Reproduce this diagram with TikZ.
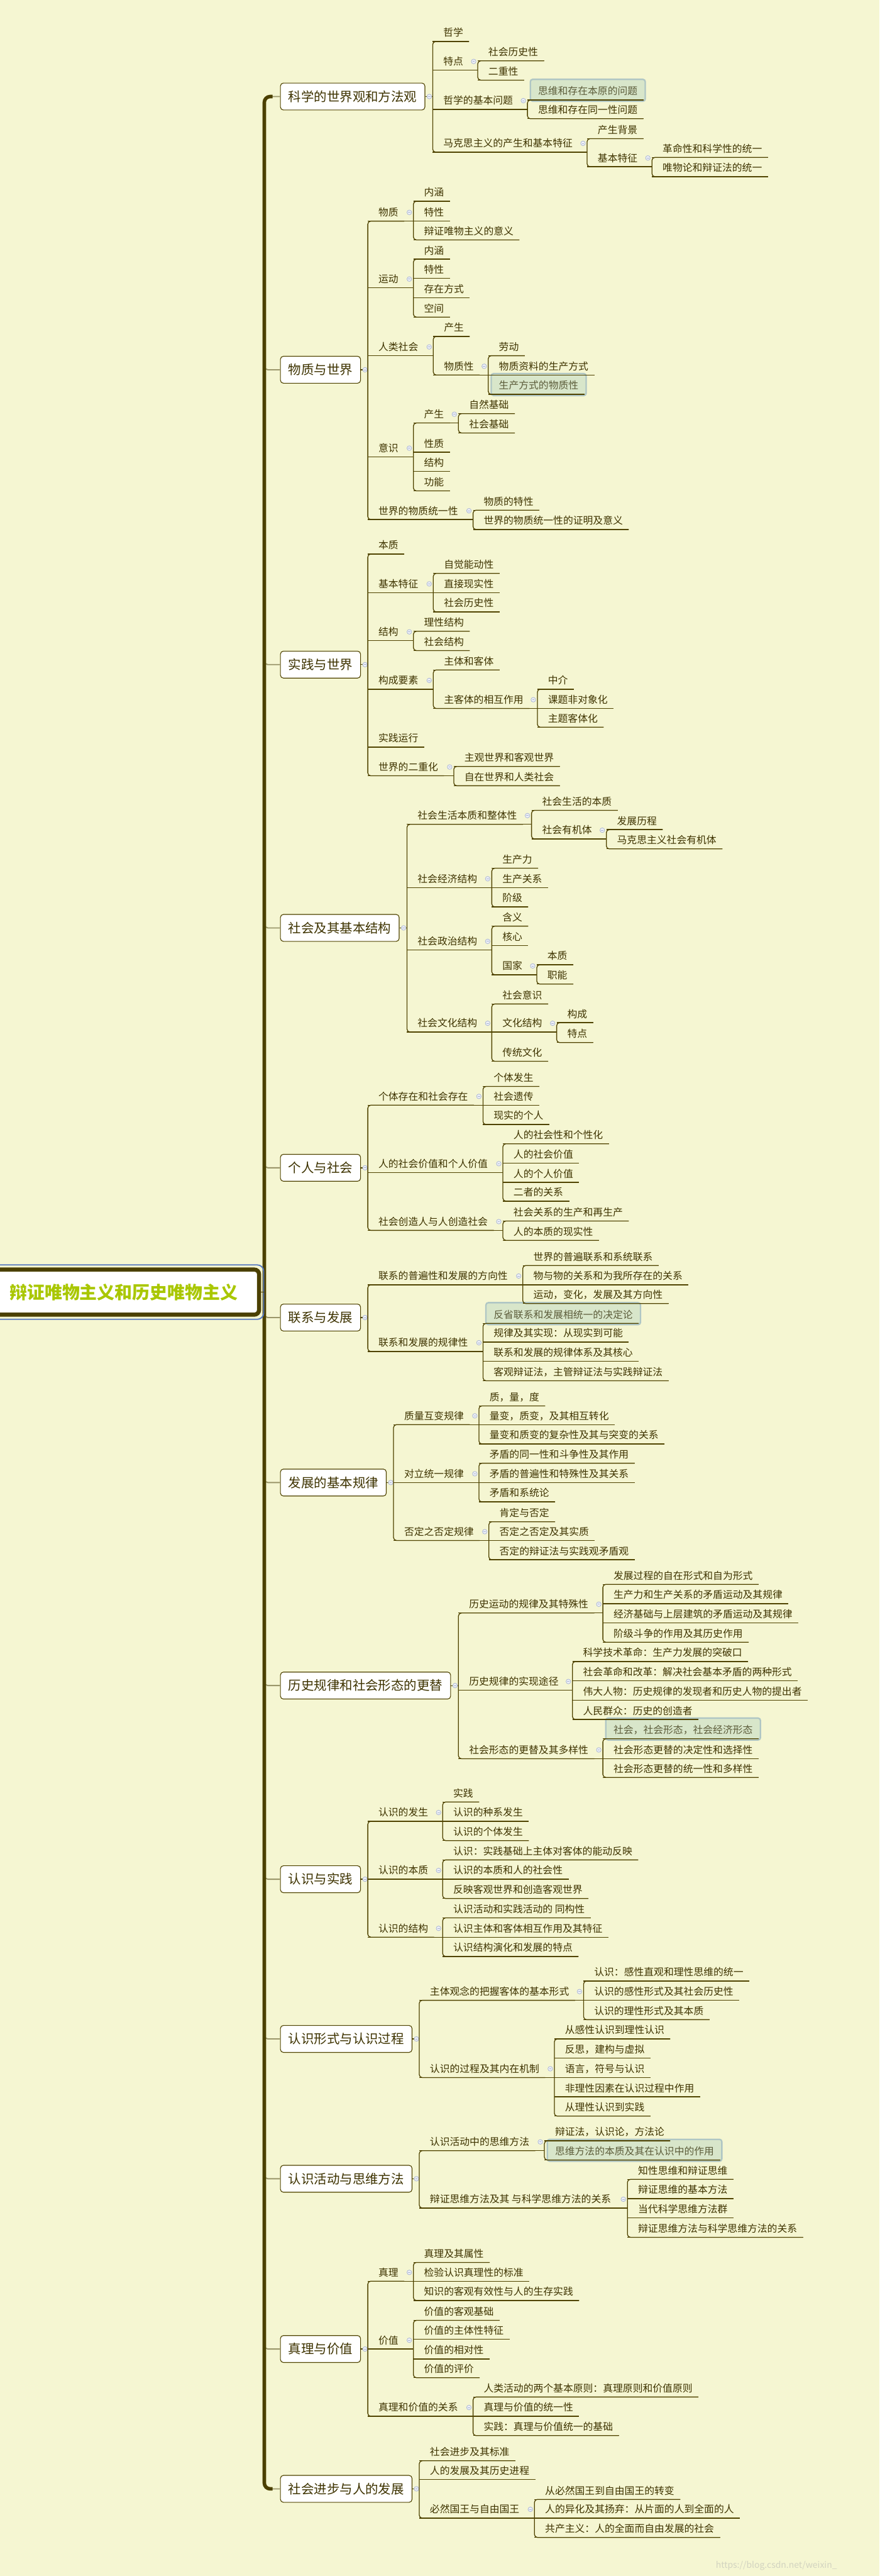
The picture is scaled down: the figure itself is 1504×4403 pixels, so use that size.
\documentclass[tikz,border=0pt]{standalone}
\usepackage{fontspec}
\setmainfont{Noto Sans CJK SC}
\usetikzlibrary{calc}
\definecolor{bgc}{HTML}{F5F6D2}
\definecolor{ink}{HTML}{3E3300}
\definecolor{linec}{HTML}{4F4300}
\definecolor{trunkc}{HTML}{4B4000}
\definecolor{l1line}{HTML}{9A966A}
\definecolor{hlfill}{HTML}{D8E6CA}
\definecolor{hldraw}{HTML}{AFC6C4}
\definecolor{hlink}{HTML}{5C5C3A}
\definecolor{rootc}{HTML}{A9C700}
\definecolor{selc}{HTML}{5577C0}
\definecolor{colfill}{HTML}{EEF0F6}
\definecolor{coldraw}{HTML}{A8B4D4}
\definecolor{wmc}{HTML}{D2D3C0}
\pgfdeclarelayer{canvas}
\pgfdeclarelayer{hlayer}
\pgfsetlayers{canvas,hlayer,main}
\tikzset{
  leaf/.style={anchor=south west, inner sep=0pt, text height=14pt, text depth=8.5pt,
    font=\fontsize{17pt}{17pt}\selectfont, text=ink},
  uline/.style={draw=linec, line width=1.4pt},
  hlbox/.style={draw=hldraw, fill=hlfill, line width=2.5pt, rounded corners=4pt},
  l1box/.style={anchor=west, draw=linec, line width=1.2pt, fill=white, rounded corners=5pt,
    inner xsep=13.5pt, inner ysep=0pt, minimum height=46pt,
    font=\fontsize{22pt}{22pt}\selectfont, text=ink},
  l1c/.style={draw=l1line, line width=2pt},
  trunk/.style={draw=trunkc, line width=6pt},
  coln/.style={circle, inner sep=0pt, minimum size=8pt, draw=coldraw, fill=colfill, line width=0.8pt,
    path picture={\draw[coldraw, line width=0.8pt] ([xshift=-2pt]path picture bounding box.center) -- ([xshift=2pt]path picture bounding box.center);}},
  rootnode/.style={draw=trunkc, line width=7pt, fill=white, rounded corners=8pt,
    minimum width=463pt, minimum height=77pt, inner sep=0pt,
    font=\fontsize{30pt}{30pt}\selectfont\bfseries, text=rootc},
  wmark/.style={anchor=west, inner sep=0pt, font=\fontsize{15pt}{15pt}\selectfont, text=wmc}
}
\newcommand\mmleaf[4]{\node[leaf] (#1) at (#2,#3) {\hspace*{18pt}#4\hspace*{10pt}};\draw[uline] (#1.south west) -- (#1.south east);}
\newcommand\mmhl[4]{\node[leaf,text=hlink] (#1) at (#2,#3) {\hspace*{18pt}#4\hspace*{10pt}};%
  \begin{pgfonlayer}{hlayer}\draw[hlbox] ([xshift=5pt,yshift=-2pt]#1.south west) rectangle ([xshift=3pt,yshift=12.5pt]#1.north east);\end{pgfonlayer}%
  \draw[uline] (#1.south west) -- (#1.south east);}
\newcommand\mmpar[5]{\node[leaf] (#1) at (#2,#3) {\hspace*{18pt}#4\hspace*{10pt}};\draw[uline] (#1.south west) -- (#5,#3);\node[coln] (#1c) at (#5-7,#3-15) {};}
\newcommand\mmgrp[2]{\draw[uline,rounded corners=5pt] (#1.south east) -- (#1.south west) -- (#2.south west) -- (#2.south east);}
\newcommand\mmtop[5]{\node[l1box] (#1) at (479,#2) {#3};%
  \draw[uline] (#1.east) -- (#4,#2);%
  \node[coln] (#1c) at ([xshift=7pt]#1.east) {};%
  \draw[l1c, rounded corners=6pt] ($(#1.west -| tr)+(0,#5)$) |- (#1.west);}
\begin{document}
\begin{tikzpicture}[x=1pt,y=-1pt]
\path[use as bounding box] (0,0) rectangle (1504,4403);
\begin{pgfonlayer}{canvas}
\fill[bgc] (0,0) rectangle (1504,4403);
\end{pgfonlayer}
\coordinate (tr) at (452,0);

% ---------- A
\mmtop{A}{165}{科学的世界观和方法观}{740}{8}
\mmleaf{a1}{740}{71}{哲学}
\mmpar{a2}{740}{120}{特点}{817}
\mmleaf{a21}{817}{104}{社会历史性}
\mmleaf{a22}{817}{137}{二重性}
\mmgrp{a21}{a22}
\mmpar{a3}{740}{187}{哲学的基本问题}{902}
\mmhl{a31}{902}{171}{思维和存在本原的问题}
\mmleaf{a32}{902}{203}{思维和存在同一性问题}
\mmgrp{a31}{a32}
\mmpar{a4}{740}{260}{马克思主义的产生和基本特征}{1004}
\mmleaf{a41}{1004}{237}{产生背景}
\mmpar{a42}{1004}{285}{基本特征}{1115}
\mmleaf{a421}{1115}{269}{革命性和科学性的统一}
\mmleaf{a422}{1115}{302}{唯物论和辩证法的统一}
\mmgrp{a421}{a422}
\mmgrp{a41}{a42}
\mmgrp{a1}{a4}

% ---------- B
\mmtop{B}{632}{物质与世界}{629}{-8}
\mmpar{b1}{629}{378}{物质}{707}
\mmleaf{b11}{707}{344}{内涵}
\mmleaf{b12}{707}{378}{特性}
\mmleaf{b13}{707}{410}{辩证唯物主义的意义}
\mmgrp{b11}{b13}
\mmpar{b2}{629}{492}{运动}{707}
\mmleaf{b21}{707}{443}{内涵}
\mmleaf{b22}{707}{476}{特性}
\mmleaf{b23}{707}{509}{存在方式}
\mmleaf{b24}{707}{542}{空间}
\mmgrp{b21}{b24}
\mmpar{b3}{629}{608}{人类社会}{741}
\mmleaf{b31}{741}{575}{产生}
\mmpar{b32}{741}{641}{物质性}{835}
\mmleaf{b321}{835}{608}{劳动}
\mmleaf{b322}{835}{641}{物质资料的生产方式}
\mmhl{b323}{835}{674}{生产方式的物质性}
\mmgrp{b321}{b323}
\mmgrp{b31}{b32}
\mmpar{b4}{629}{781}{意识}{707}
\mmpar{b41}{707}{723}{产生}{784}
\mmleaf{b411}{784}{707}{自然基础}
\mmleaf{b412}{784}{740}{社会基础}
\mmgrp{b411}{b412}
\mmleaf{b42}{707}{773}{性质}
\mmleaf{b43}{707}{806}{结构}
\mmleaf{b44}{707}{839}{功能}
\mmgrp{b41}{b44}
\mmpar{b5}{629}{888}{世界的物质统一性}{809}
\mmleaf{b51}{809}{872}{物质的特性}
\mmleaf{b52}{809}{905}{世界的物质统一性的证明及意义}
\mmgrp{b51}{b52}
\mmgrp{b1}{b5}

% ---------- C
\mmtop{C}{1136}{实践与世界}{629}{-8}
\mmleaf{c1}{629}{947}{本质}
\mmpar{c2}{629}{1013}{基本特征}{741}
\mmleaf{c21}{741}{980}{自觉能动性}
\mmleaf{c22}{741}{1013}{直接现实性}
\mmleaf{c23}{741}{1046}{社会历史性}
\mmgrp{c21}{c23}
\mmpar{c3}{629}{1095}{结构}{707}
\mmleaf{c31}{707}{1079}{理性结构}
\mmleaf{c32}{707}{1112}{社会结构}
\mmgrp{c31}{c32}
\mmpar{c4}{629}{1178}{构成要素}{741}
\mmleaf{c41}{741}{1145}{主体和客体}
\mmpar{c42}{741}{1211}{主客体的相互作用}{919}
\mmleaf{c421}{919}{1178}{中介}
\mmleaf{c422}{919}{1211}{课题非对象化}
\mmleaf{c423}{919}{1243}{主题客体化}
\mmgrp{c421}{c423}
\mmgrp{c41}{c42}
\mmleaf{c5}{629}{1277}{实践运行}
\mmpar{c6}{629}{1326}{世界的二重化}{776}
\mmleaf{c61}{776}{1310}{主观世界和客观世界}
\mmleaf{c62}{776}{1343}{自在世界和人类社会}
\mmgrp{c61}{c62}
\mmgrp{c1}{c6}

% ---------- D
\mmtop{D}{1586}{社会及其基本结构}{696}{-8}
\mmpar{d1}{696}{1409}{社会生活本质和整体性}{909}
\mmleaf{d11}{909}{1385}{社会生活的本质}
\mmpar{d12}{909}{1434}{社会有机体}{1037}
\mmleaf{d121}{1037}{1418}{发展历程}
\mmleaf{d122}{1037}{1451}{马克思主义社会有机体}
\mmgrp{d121}{d122}
\mmgrp{d11}{d12}
\mmpar{d2}{696}{1517}{社会经济结构}{841}
\mmleaf{d21}{841}{1484}{生产力}
\mmleaf{d22}{841}{1517}{生产关系}
\mmleaf{d23}{841}{1550}{阶级}
\mmgrp{d21}{d23}
\mmpar{d3}{696}{1624}{社会政治结构}{841}
\mmleaf{d31}{841}{1583}{含义}
\mmleaf{d32}{841}{1616}{核心}
\mmpar{d33}{841}{1666}{国家}{918}
\mmleaf{d331}{918}{1649}{本质}
\mmleaf{d332}{918}{1682}{职能}
\mmgrp{d331}{d332}
\mmgrp{d31}{d33}
\mmpar{d4}{696}{1764}{社会文化结构}{841}
\mmleaf{d41}{841}{1716}{社会意识}
\mmpar{d42}{841}{1764}{文化结构}{952}
\mmleaf{d421}{952}{1748}{构成}
\mmleaf{d422}{952}{1782}{特点}
\mmgrp{d421}{d422}
\mmleaf{d43}{841}{1814}{传统文化}
\mmgrp{d41}{d43}
\mmgrp{d1}{d4}

% ---------- E
\mmtop{E}{1996}{个人与社会}{629}{-8}
\mmpar{e1}{629}{1889}{个体存在和社会存在}{826}
\mmleaf{e11}{826}{1857}{个体发生}
\mmleaf{e12}{826}{1889}{社会遗传}
\mmleaf{e13}{826}{1922}{现实的个人}
\mmgrp{e11}{e13}
\mmpar{e2}{629}{2004}{人的社会价值和个人价值}{860}
\mmleaf{e21}{860}{1955}{人的社会性和个性化}
\mmleaf{e22}{860}{1988}{人的社会价值}
\mmleaf{e23}{860}{2021}{人的个人价值}
\mmleaf{e24}{860}{2053}{二者的关系}
\mmgrp{e21}{e24}
\mmpar{e3}{629}{2103}{社会创造人与人创造社会}{860}
\mmleaf{e31}{860}{2087}{社会关系的生产和再生产}
\mmleaf{e32}{860}{2120}{人的本质的现实性}
\mmgrp{e31}{e32}
\mmgrp{e1}{e3}

% ---------- F
\mmtop{F}{2252}{联系与发展}{629}{-8}
\mmpar{f1}{629}{2196}{联系的普遍性和发展的方向性}{894}
\mmleaf{f11}{894}{2163}{世界的普遍联系和系统联系}
\mmleaf{f12}{894}{2196}{物与物的关系和为我所存在的关系}
\mmleaf{f13}{894}{2228}{运动，变化，发展及其方向性}
\mmgrp{f11}{f13}
\mmpar{f2}{629}{2310}{联系和发展的规律性}{826}
\mmhl{f21}{826}{2262}{反省联系和发展相统一的决定论}
\mmleaf{f22}{826}{2294}{规律及其实现：从现实到可能}
\mmleaf{f23}{826}{2327}{联系和发展的规律体系及其核心}
\mmleaf{f24}{826}{2360}{客观辩证法，主管辩证法与实践辩证法}
\mmgrp{f21}{f24}
\mmgrp{f1}{f2}

% ---------- G
\mmtop{G}{2534}{发展的基本规律}{673}{-8}
\mmpar{g1}{673}{2435}{质量互变规律}{819}
\mmleaf{g11}{819}{2403}{质，量，度}
\mmleaf{g12}{819}{2435}{量变，质变，及其相互转化}
\mmleaf{g13}{819}{2468}{量变和质变的复杂性及其与突变的关系}
\mmgrp{g11}{g13}
\mmpar{g2}{673}{2534}{对立统一规律}{819}
\mmleaf{g21}{819}{2501}{矛盾的同一性和斗争性及其作用}
\mmleaf{g22}{819}{2534}{矛盾的普遍性和特殊性及其关系}
\mmleaf{g23}{819}{2567}{矛盾和系统论}
\mmgrp{g21}{g23}
\mmpar{g3}{673}{2633}{否定之否定规律}{836}
\mmleaf{g31}{836}{2601}{肯定与否定}
\mmleaf{g32}{836}{2633}{否定之否定及其实质}
\mmleaf{g33}{836}{2666}{否定的辩证法与实践观矛盾观}
\mmgrp{g31}{g33}
\mmgrp{g1}{g3}

% ---------- H
\mmtop{H}{2881}{历史规律和社会形态的更替}{784}{-8}
\mmpar{h1}{784}{2757}{历史运动的规律及其特殊性}{1031}
\mmleaf{h11}{1031}{2708}{发展过程的自在形式和自为形式}
\mmleaf{h12}{1031}{2741}{生产力和生产关系的矛盾运动及其规律}
\mmleaf{h13}{1031}{2774}{经济基础与上层建筑的矛盾运动及其规律}
\mmleaf{h14}{1031}{2807}{阶级斗争的作用及其历史作用}
\mmgrp{h11}{h14}
\mmpar{h2}{784}{2889}{历史规律的实现途径}{979}
\mmleaf{h21}{979}{2840}{科学技术革命：生产力发展的突破口}
\mmleaf{h22}{979}{2873}{社会革命和改革：解决社会基本矛盾的两种形式}
\mmleaf{h23}{979}{2906}{伟大人物：历史规律的发现者和历史人物的提出者}
\mmleaf{h24}{979}{2939}{人民群众：历史的创造者}
\mmgrp{h21}{h24}
\mmpar{h3}{784}{3006}{社会形态的更替及其多样性}{1031}
\mmhl{h31}{1031}{2972}{社会，社会形态，社会经济形态}
\mmleaf{h32}{1031}{3006}{社会形态更替的决定性和选择性}
\mmleaf{h33}{1031}{3038}{社会形态更替的统一性和多样性}
\mmgrp{h31}{h33}
\mmgrp{h1}{h3}

% ---------- I
\mmtop{I}{3212}{认识与实践}{629}{-8}
\mmpar{i1}{629}{3113}{认识的发生}{757}
\mmleaf{i11}{757}{3080}{实践}
\mmleaf{i12}{757}{3113}{认识的种系发生}
\mmleaf{i13}{757}{3146}{认识的个体发生}
\mmgrp{i11}{i13}
\mmpar{i2}{629}{3212}{认识的本质}{757}
\mmleaf{i21}{757}{3179}{认识：实践基础上主体对客体的能动反映}
\mmleaf{i22}{757}{3212}{认识的本质和人的社会性}
\mmleaf{i23}{757}{3245}{反映客观世界和创造客观世界}
\mmgrp{i21}{i23}
\mmpar{i3}{629}{3311}{认识的结构}{757}
\mmleaf{i31}{757}{3278}{认识活动和实践活动的 同构性}
\mmleaf{i32}{757}{3311}{认识主体和客体相互作用及其特征}
\mmleaf{i33}{757}{3344}{认识结构演化和发展的特点}
\mmgrp{i31}{i33}
\mmgrp{i1}{i3}

% ---------- J
\mmtop{J}{3485}{认识形式与认识过程}{717}{-8}
\mmpar{j1}{717}{3419}{主体观念的把握客体的基本形式}{998}
\mmleaf{j11}{998}{3386}{认识：感性直观和理性思维的统一}
\mmleaf{j12}{998}{3419}{认识的感性形式及其社会历史性}
\mmleaf{j13}{998}{3452}{认识的理性形式及其本质}
\mmgrp{j11}{j13}
\mmpar{j2}{717}{3551}{认识的过程及其内在机制}{948}
\mmleaf{j21}{948}{3485}{从感性认识到理性认识}
\mmleaf{j22}{948}{3518}{反思，建构与虚拟}
\mmleaf{j23}{948}{3551}{语言，符号与认识}
\mmleaf{j24}{948}{3584}{非理性因素在认识过程中作用}
\mmleaf{j25}{948}{3617}{从理性认识到实践}
\mmgrp{j21}{j25}
\mmgrp{j1}{j2}

% ---------- K
\mmtop{K}{3724}{认识活动与思维方法}{717}{-8}
\mmpar{k1}{717}{3676}{认识活动中的思维方法}{931}
\mmleaf{k11}{931}{3659}{辩证法，认识论，方法论}
\mmhl{k12}{931}{3692}{思维方法的本质及其在认识中的作用}
\mmgrp{k11}{k12}
\mmpar{k2}{717}{3774}{辩证思维方法及其 与科学思维方法的关系}{1073}
\mmleaf{k21}{1073}{3725}{知性思维和辩证思维}
\mmleaf{k22}{1073}{3758}{辩证思维的基本方法}
\mmleaf{k23}{1073}{3791}{当代科学思维方法群}
\mmleaf{k24}{1073}{3824}{辩证思维方法与科学思维方法的关系}
\mmgrp{k21}{k24}
\mmgrp{k1}{k2}

% ---------- L
\mmtop{L}{4015}{真理与价值}{629}{-8}
\mmpar{l1}{629}{3899}{真理}{707}
\mmleaf{l11}{707}{3867}{真理及其属性}
\mmleaf{l12}{707}{3899}{检验认识真理性的标准}
\mmleaf{l13}{707}{3932}{知识的客观有效性与人的生存实践}
\mmgrp{l11}{l13}
\mmpar{l2}{629}{4015}{价值}{707}
\mmleaf{l21}{707}{3966}{价值的客观基础}
\mmleaf{l22}{707}{3998}{价值的主体性特征}
\mmleaf{l23}{707}{4032}{价值的相对性}
\mmleaf{l24}{707}{4064}{价值的评价}
\mmgrp{l21}{l24}
\mmpar{l3}{629}{4130}{真理和价值的关系}{809}
\mmleaf{l31}{809}{4097}{人类活动的两个基本原则：真理原则和价值原则}
\mmleaf{l32}{809}{4130}{真理与价值的统一性}
\mmleaf{l33}{809}{4163}{实践：真理与价值统一的基础}
\mmgrp{l31}{l33}
\mmgrp{l1}{l3}

% ---------- M
\mmtop{M}{4254}{社会进步与人的发展}{717}{-8}
\mmleaf{m1}{717}{4206}{社会进步及其标准}
\mmleaf{m2}{717}{4238}{人的发展及其历史进程}
\mmpar{m3}{717}{4304}{必然国王与自由国王}{914}
\mmleaf{m31}{914}{4272}{从必然国王到自由国王的转变}
\mmleaf{m32}{914}{4304}{人的异化及其扬弃：从片面的人到全面的人}
\mmleaf{m33}{914}{4337}{共产主义：人的全面而自由发展的社会}
\mmgrp{m31}{m33}
\mmgrp{m1}{m3}

% ---------- trunk and root
\draw[trunk, rounded corners=10pt] ([xshift=-13pt]A.west) -- (A.west -| tr) -- (M.west -| tr) -- ([xshift=-13pt]M.west);
\node[rootnode] (root) at (211.5,2208.5) {辩证唯物主义和历史唯物主义};
\draw[selc, line width=2pt, rounded corners=11pt] ([shift={(-4.5pt,-4.5pt)}]root.south west) rectangle ([shift={(4.5pt,4.5pt)}]root.north east);
\draw[uline] (root.east) -- (root.east -| tr);

% ---------- watermark
\node[wmark] (wm) at (1224,4385) {https://blog.csdn.net/weixin\_};
\end{tikzpicture}
\end{document}
